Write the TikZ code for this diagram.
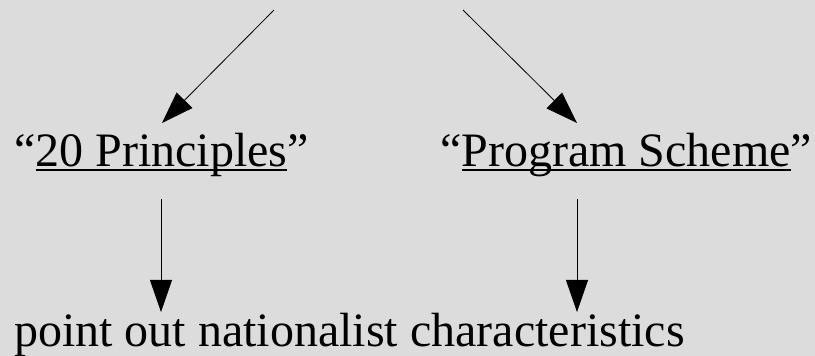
\documentclass[tikz,border=0pt]{standalone}
\usepackage{fontspec}
\setmainfont{Liberation Serif}
\usetikzlibrary{arrows.meta}
\definecolor{bg}{HTML}{DCDCDC}
\newcommand\ulx[1]{\setbox0\hbox{#1}\rlap{\rule[-4.5pt]{\wd0}{2pt}}\box0}
\begin{document}
\begin{tikzpicture}[x=1pt,y=1pt,
  lbl/.style={inner sep=0pt, anchor=base west, font=\fontsize{48}{56}\selectfont},
  conn/.style={line width=0.8pt, -{Triangle[length=32pt,width=22pt]}}]
\fill[bg] (0,0) rectangle (815,356);
\useasboundingbox (0,0) rectangle (815,356);
\node[lbl] (p20) at (14,189) {“\ulx{20 Principles}”};
\node[lbl] (prog) at (440,189) {“\ulx{Program Scheme}”};
\node[lbl] (pt) at (14,9) {point out nationalist characteristics};
\coordinate (s1) at (274,346);
\coordinate (s2) at (463,346);
\coordinate (e1) at (162,233);
\coordinate (e2) at (577,233);
\coordinate (v1s) at (161,157);
\coordinate (v1e) at (161,44);
\coordinate (v2s) at (577,157);
\coordinate (v2e) at (577,44);
\draw[conn] (s1) -- (e1);
\draw[conn] (s2) -- (e2);
\draw[conn] (v1s) -- (v1e);
\draw[conn] (v2s) -- (v2e);
\end{tikzpicture}
\end{document}
